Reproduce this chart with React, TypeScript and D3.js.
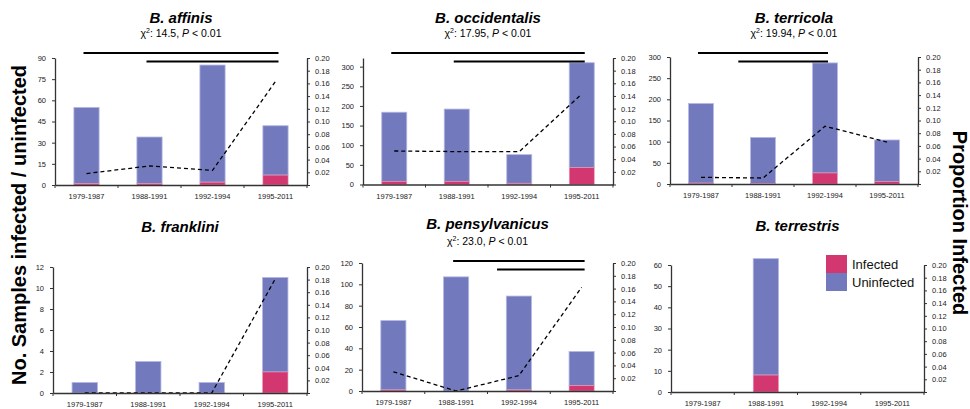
import { useEffect, useRef } from 'react';
import * as d3 from 'd3';

// Sampling periods (x categories)
const periods = ['1979-1987', '1988-1991', '1992-1994', '1995-2011'];

const species = ['B. affinis', 'B. occidentalis', 'B. terricola', 'B. franklini', 'B. pensylvanicus', 'B. terrestris'];

// Total samples per period (infected + uninfected)
const totals = [
    [55, 34, 85, 42],
    [184, 192, 76, 310],
    [190, 110, 286, 104],
    [1, 3, 1, 11],
    [66, 107, 89, 37],
    [0, 63, 0, 0],
];

// Infected samples per period
const infected = [
    [1, 1, 2, 7],
    [8, 8, 3, 43],
    [2, 1, 26, 6],
    [0, 0, 0, 2],
    [1, 0, 1, 5],
    [0, 8, 0, 0],
];

// Proportion infected (dashed line, right axis)
const proportions = [
    [0.018, 0.030, 0.023, 0.163],
    [0.053, 0.052, 0.052, 0.143],
    [0.0105, 0.0094, 0.091, 0.066],
    [0, 0, 0, 0.181],
    [0.030, 0, 0.024, 0.162],
    null,
];

const countMax = [90, 322, 300, 12, 120, 60];
const countStep = [15, 50, 50, 2, 20, 10];
const propTicks = [0.02, 0.04, 0.06, 0.08, 0.10, 0.12, 0.14, 0.16, 0.18, 0.20];

const chiValues = ['14.5', '17.95', '19.94', null, '23.0', null];

// significance bars: [from period index, to period index]
const sigBars = [
    [[0, 3], [1, 3]],
    [[0, 3], [1, 3]],
    [[0, 2], [0.65, 2]],
    [],
    [[1, 3], [1.7, 3]],
    [],
];

// panel layout (plot rectangles)
const panels = [
    { x0: 55, x1: 307, top: 58, bottom: 185, titleY: 23, chiY: 37, sigY: 53 },
    { x0: 363, x1: 613, top: 58, bottom: 184.5, titleY: 23, chiY: 37, sigY: 53 },
    { x0: 670, x1: 918, top: 57, bottom: 184, titleY: 23, chiY: 37, sigY: 53 },
    { x0: 53, x1: 307, top: 267, bottom: 393, titleY: 232, chiY: 0, sigY: 0 },
    { x0: 362, x1: 613, top: 263, bottom: 391, titleY: 229, chiY: 245, sigY: 261 },
    { x0: 671, x1: 924, top: 265, bottom: 392, titleY: 231, chiY: 0, sigY: 0 },
];

const INFECTED = '#d2386f';
const UNINFECTED = '#727abd';
const FONT = '"Liberation Sans", Arial, sans-serif';
const AXIS = '#333';

export default function App() {
    const svgRef = useRef(null);

    useEffect(() => {
        const svg = d3.select(svgRef.current);
        svg.selectAll('*').remove();
        const sigLayer: { x1: number; x2: number; y: number }[] = [];

        species.forEach((name, i) => {
            const p = panels[i];
            const g = svg.append('g');

            const x = d3.scaleBand().domain(periods).range([p.x0, p.x1]).padding(0);
            const y = d3.scaleLinear().domain([0, countMax[i]]).range([p.bottom, p.top]);
            const yr = d3.scaleLinear().domain([0, 0.2]).range([p.bottom, p.top]);
            const barW = x.bandwidth() * 0.4;
            const cx = (k: number) => p.x0 + x.bandwidth() * (k + 0.5);

            // title
            g.append('text')
                .attr('x', (p.x0 + p.x1) / 2)
                .attr('y', p.titleY)
                .attr('text-anchor', 'middle')
                .style('font-family', FONT)
                .style('font-size', '15px')
                .style('font-weight', 'bold')
                .style('font-style', 'italic')
                .text(name);

            if (chiValues[i]) {
                const t = g.append('text')
                    .attr('x', (p.x0 + p.x1) / 2)
                    .attr('y', p.chiY)
                    .attr('text-anchor', 'middle')
                    .style('font-family', FONT)
                    .style('font-size', '10.5px');
                t.append('tspan').text('χ');
                t.append('tspan').attr('dy', -4).style('font-size', '7px').text('2');
                t.append('tspan').attr('dy', 4).text(`: ${chiValues[i]}, `);
                t.append('tspan').style('font-style', 'italic').text('P');
                t.append('tspan').text(' < 0.01');
            }

            // stacked bars
            periods.forEach((per, k) => {
                const tot = totals[i][k];
                if (!tot) return;
                const inf = infected[i][k];
                const bx = cx(k) - barW / 2;
                g.append('rect')
                    .attr('x', bx)
                    .attr('y', y(tot))
                    .attr('width', barW)
                    .attr('height', y(inf) - y(tot))
                    .attr('fill', UNINFECTED)
                    .attr('stroke', '#b3b7e3')
                    .attr('stroke-width', 0.8);
                if (inf > 0) {
                    g.append('rect')
                        .attr('x', bx)
                        .attr('y', y(inf))
                        .attr('width', barW)
                        .attr('height', y(0) - y(inf))
                        .attr('fill', INFECTED)
                        .attr('stroke', '#e79ab8')
                        .attr('stroke-width', 0.6);
                }
            });

            // proportion line
            if (proportions[i]) {
                const line = d3.line<number>()
                    .x((_, k) => cx(k))
                    .y(d => yr(d));
                g.append('path')
                    .datum(proportions[i])
                    .attr('d', line)
                    .attr('fill', 'none')
                    .attr('stroke', '#000')
                    .attr('stroke-width', 1.3)
                    .attr('stroke-dasharray', '4,3');
            }

            // left axis
            const leftAxis = g.append('g')
                .attr('transform', `translate(${p.x0},0)`)
                .call(d3.axisLeft(y)
                    .tickValues(d3.range(0, countMax[i] + 0.001, countStep[i]))
                    .tickSize(3)
                    .tickSizeOuter(0)
                    .tickPadding(6));
            leftAxis.select('.domain').attr('stroke', AXIS).attr('stroke-width', 1.3);
            leftAxis.selectAll('line').attr('stroke', AXIS);
            leftAxis.selectAll('text')
                .style('font-family', FONT)
                .style('font-size', '7.5px')
                .attr('fill', '#222');

            // right axis
            const rightAxis = g.append('g')
                .attr('transform', `translate(${p.x1},0)`)
                .call(d3.axisRight(yr)
                    .tickValues([0, ...propTicks])
                    .tickFormat(d => (+d === 0 ? '' : d3.format('.2f')(d)))
                    .tickSize(3)
                    .tickSizeOuter(0)
                    .tickPadding(5));
            rightAxis.select('.domain').attr('stroke', AXIS).attr('stroke-width', 1.3);
            rightAxis.selectAll('line').attr('stroke', AXIS);
            rightAxis.selectAll('text')
                .style('font-family', FONT)
                .style('font-size', '7.5px')
                .attr('fill', '#222');

            // bottom axis
            const bottomAxis = g.append('g')
                .attr('transform', `translate(0,${p.bottom})`)
                .call(d3.axisBottom(x).tickSize(0).tickPadding(9));
            bottomAxis.select('.domain').attr('stroke', AXIS).attr('stroke-width', 1.5);
            bottomAxis.selectAll('text')
                .style('font-family', FONT)
                .style('font-size', '7.5px')
                .attr('fill', '#222');
            // ticks at band boundaries
            d3.range(periods.length + 1).forEach(k => {
                bottomAxis.append('line')
                    .attr('x1', p.x0 + x.bandwidth() * k)
                    .attr('x2', p.x0 + x.bandwidth() * k)
                    .attr('y1', 0)
                    .attr('y2', 3)
                    .attr('stroke', AXIS);
            });

            // significance bars (collected, drawn on top)
            sigBars[i].forEach((pair, lvl) => {
                sigLayer.push({
                    x1: cx(pair[0]) - 3,
                    x2: cx(pair[1]) + 3,
                    y: p.sigY + lvl * 8.5,
                });
            });
        });

        svg.append('g')
            .selectAll('line')
            .data(sigLayer)
            .join('line')
            .attr('x1', d => d.x1)
            .attr('x2', d => d.x2)
            .attr('y1', d => d.y)
            .attr('y2', d => d.y)
            .attr('stroke', '#000')
            .attr('stroke-width', 2);

        // legend (in B. terrestris panel)
        const legend = svg.append('g').attr('transform', 'translate(826,255)');
        [['Infected', INFECTED], ['Uninfected', UNINFECTED]].forEach(([label, color], k) => {
            legend.append('rect')
                .attr('x', 0)
                .attr('y', k * 18)
                .attr('width', 21)
                .attr('height', 18)
                .attr('fill', color);
            legend.append('text')
                .attr('x', 26)
                .attr('y', k * 18 + 13.5)
                .style('font-family', FONT)
                .style('font-size', '13px')
                .attr('fill', '#111')
                .text(label);
        });

        // axis titles
        svg.append('text')
            .attr('transform', 'translate(26,225) rotate(-90)')
            .attr('text-anchor', 'middle')
            .style('font-family', FONT)
            .style('font-size', '20px')
            .style('font-weight', 'bold')
            .text('No. Samples infected / uninfected');

        svg.append('text')
            .attr('transform', 'translate(953,223) rotate(90)')
            .attr('text-anchor', 'middle')
            .style('font-family', FONT)
            .style('font-size', '20px')
            .style('font-weight', 'bold')
            .text('Proportion Infected');
    }, []);

    return (
        <svg
            ref={svgRef}
            width={970}
            height={409}
            style={{ position: 'absolute', left: 0, top: 0, background: '#fff' }}
        />
    );
}
